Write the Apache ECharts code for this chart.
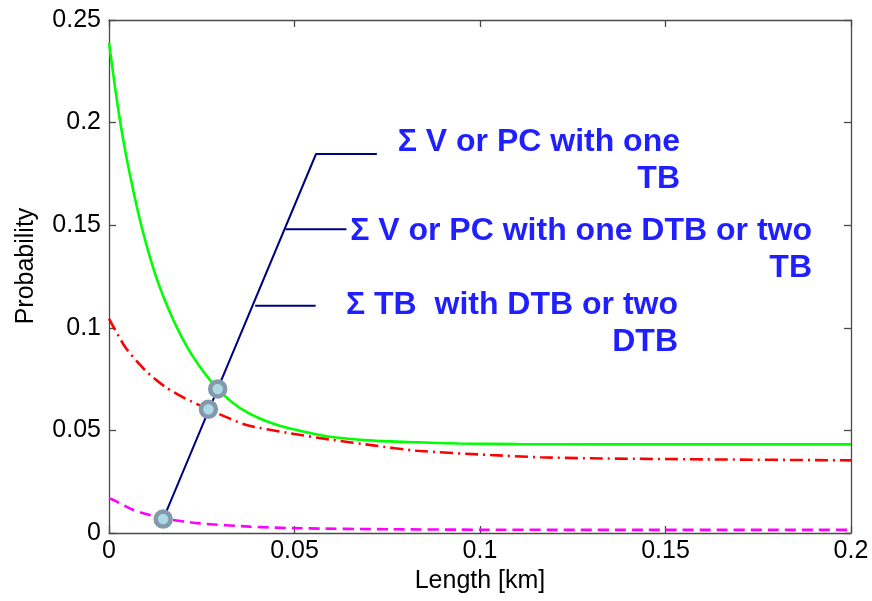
<!DOCTYPE html>
<html><head><meta charset="utf-8">
<script src="https://cdn.jsdelivr.net/npm/echarts@6/dist/echarts.min.js"></script>
<style>html,body{margin:0;padding:0;background:#fff}#c{width:872px;height:601px}</style>
</head><body><div id="c"></div><script>
// ---- data ----
const xTicks = [0, 0.05, 0.1, 0.15, 0.2];
const yTicks = [0, 0.05, 0.1, 0.15, 0.2, 0.25];
const greenCurve = [[0,0.239],[0.0016,0.2175],[0.003,0.2005],[0.0045,0.185],[0.006,0.1715],[0.0075,0.159],[0.009,0.1478],[0.011,0.1347],[0.013,0.1232],[0.0151,0.1132],[0.0175,0.1032],[0.0196,0.0955],[0.022,0.0878],[0.0245,0.081],[0.0268,0.0755],[0.0293,0.0702],[0.0335,0.0632],[0.0375,0.0585],[0.0416,0.0551],[0.046,0.0523],[0.0506,0.0502],[0.0596,0.0469],[0.0712,0.0450],[0.083,0.0442],[0.094,0.0436],[0.11,0.0433],[0.13,0.0432],[0.2,0.0432]];
const redCurve = [[0,0.1045],[0.0043,0.0908],[0.0097,0.0794],[0.0151,0.0713],[0.0205,0.0656],[0.0267,0.0604],[0.0299,0.0578],[0.0371,0.0526],[0.0488,0.0486],[0.0605,0.0453],[0.0712,0.0427],[0.0829,0.0401],[0.1027,0.038],[0.1162,0.0369],[0.1296,0.0364],[0.16,0.0359],[0.2,0.0354]];
const magentaCurve = [[0,0.0168],[0.0012,0.0161],[0.0066,0.0112],[0.0146,0.0072],[0.0245,0.0047],[0.038,0.0031],[0.0515,0.0023],[0.0766,0.0018],[0.1,0.0016],[0.15,0.0015],[0.2,0.0015]];
const markerPoints = [[0.0146,0.0068],[0.0268,0.0603],[0.0293,0.0702]];
const leaderMain = [[0.0146,0.0068],[0.0558,0.1847],[0.0722,0.1847]];
const leaderBranch2 = [[0.0476,0.148],[0.0640,0.148]];
const leaderBranch3 = [[0.0394,0.1108],[0.0557,0.1108]];
const labelTexts = ['Σ V or PC with one\nTB', 'Σ V or PC with one DTB or two\nTB', 'Σ TB  with DTB or two\nDTB'];
const xTitle = 'Length [km]';
const yTitle = 'Probability';

// ---- chart ----
const FONT = "'Liberation Sans', Arial, sans-serif";
const AX = '#4a4a4a';
const chart = echarts.init(document.getElementById('c'), null, {renderer: 'canvas'});
function axisCommon() {
  return {
    axisLine: {show: true, onZero: false, lineStyle: {color: AX, width: 1.3}},
    axisTick: {show: true, inside: true, length: 7, lineStyle: {color: AX, width: 1.3}},
    splitLine: {show: false},
    axisLabel: {show: false}
  };
}
const labelStyle = (margin) => ({show: true, color: '#000', fontFamily: FONT, fontSize: 25, margin: margin,
  showMinLabel: true, showMaxLabel: true, hideOverlap: false, formatter: v => String(+v.toFixed(3))});
const blue = '#1f1fff';
const textStyleCommon = {fill: blue, font: 'bold 32px ' + FONT, align: 'right', verticalAlign: 'top', lineHeight: 37.5};
chart.setOption({
  animation: false,
  backgroundColor: '#fff',
  grid: {left: 109, right: 21, top: 20, bottom: 68, containLabel: false},
  xAxis: [
    Object.assign({type: 'value', min: xTicks[0], max: xTicks[xTicks.length-1], interval: 0.05, position: 'bottom',
      name: xTitle, nameLocation: 'middle', nameGap: 34,
      nameTextStyle: {color: '#000', fontFamily: FONT, fontSize: 25}}, axisCommon(), {axisLabel: labelStyle(6)}),
    Object.assign({type: 'value', min: 0, max: 0.2, interval: 0.05, position: 'top'}, axisCommon())
  ],
  yAxis: [
    Object.assign({type: 'value', min: yTicks[0], max: yTicks[yTicks.length-1], interval: 0.05, position: 'left'}, axisCommon(), {axisLabel: labelStyle(8)}),
    Object.assign({type: 'value', min: 0, max: 0.25, interval: 0.05, position: 'right'}, axisCommon())
  ],
  graphic: [
    {type: 'text', x: 26, y: 266, rotation: Math.PI/2, style: {text: yTitle, fill: '#000', font: '25px ' + FONT, align: 'center', verticalAlign: 'middle'}},
    {type: 'text', x: 680, y: 123, z: 100, style: Object.assign({text: labelTexts[0]}, textStyleCommon)},
    {type: 'text', x: 812, y: 212, z: 100, style: Object.assign({text: labelTexts[1]}, textStyleCommon)},
    {type: 'text', x: 678, y: 286, z: 100, style: Object.assign({text: labelTexts[2]}, textStyleCommon)}
  ],
  series: [
    {type: 'line', data: greenCurve, showSymbol: false, smooth: 0.25, lineStyle: {color: '#00ff00', width: 2.6}, z: 3},
    {type: 'line', data: redCurve, showSymbol: false, smooth: 0.25, lineStyle: {color: '#ff0000', width: 2.6, type: [13, 5, 2, 5]}, z: 3},
    {type: 'line', data: magentaCurve, showSymbol: false, smooth: 0.25, lineStyle: {color: '#ff00ff', width: 2.6, type: [11, 6]}, z: 3},
    {type: 'line', data: leaderMain, showSymbol: false, lineStyle: {color: '#000080', width: 2}, z: 4},
    {type: 'line', data: leaderBranch2, showSymbol: false, lineStyle: {color: '#000080', width: 2}, z: 4},
    {type: 'line', data: leaderBranch3, showSymbol: false, lineStyle: {color: '#000080', width: 2}, z: 4},
    {type: 'scatter', data: markerPoints, symbol: 'circle', symbolSize: 15,
      itemStyle: {color: '#add8e6', borderColor: '#8499aa', borderWidth: 4.5, opacity: 1}, z: 5}
  ]
});
</script></body></html>
